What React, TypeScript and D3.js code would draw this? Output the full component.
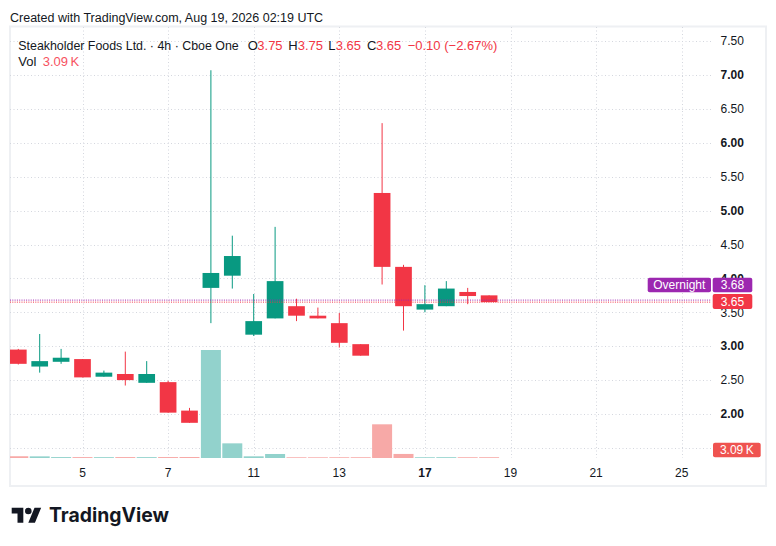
import * as d3 from 'd3';
import React from 'react';

// 4h candles, Aug 3 .. Aug 18 (two bars per session)
const opens = [2.95, 2.7, 2.77, 2.81, 2.55, 2.59, 2.46, 2.47, 2.05, 3.86, 4.04, 3.17, 3.41, 3.59, 3.45, 3.34, 3.03, 5.26, 4.17, 3.54, 3.59, 3.8, 3.75];
const highs = [2.96, 3.18, 2.96, 2.81, 2.64, 2.92, 2.78, 2.49, 2.09, 7.07, 4.63, 3.77, 4.76, 3.7, 3.57, 3.49, 3.03, 6.29, 4.2, 3.9, 3.96, 3.86, 3.75];
const lows = [2.73, 2.61, 2.74, 2.54, 2.55, 2.42, 2.46, 2.02, 1.87, 3.34, 3.85, 3.15, 3.41, 3.37, 3.41, 2.98, 2.86, 3.91, 3.23, 3.5, 3.59, 3.62, 3.65];
const closes = [2.74, 2.78, 2.83, 2.54, 2.61, 2.5, 2.59, 2.02, 1.87, 4.08, 4.33, 3.37, 3.96, 3.45, 3.41, 3.05, 2.86, 4.17, 3.59, 3.62, 3.85, 3.74, 3.65];
// volume in thousands
const volumes = [6.8, 6.4, 3.6, 3.5, 3.3, 3.6, 3.4, 3.7, 3.9, 420, 57, 6.5, 15.6, 2.8, 2.7, 2.9, 3.0, 131, 15.8, 2.9, 3.2, 3.0, 3.09];

const dayTickIdx = [3, 7, 11, 15, 19, 23, 27, 31];
const dayTickLabels = ['5', '7', '11', '13', '17', '19', '21', '25'];
const boldDay = '17';
const gridPrices = [1.5, 2, 2.5, 3, 3.5, 4, 4.5, 5, 5.5, 6, 6.5, 7, 7.5];
const priceLabels = [2, 2.5, 3, 3.5, 4, 4.5, 5, 5.5, 6, 6.5, 7, 7.5];
const overnightPrice = 3.68;
const prevClose = 3.75;

const W = 776;
const H = 546;
const plot = { left: 10, right: 711, top: 27, bottom: 458 };
const GREEN = '#089981';
const RED = '#f23645';
const TEXT = '#131722';
const FONT = '"Liberation Sans", Arial, sans-serif';

const App: React.FC = () => {
  const x = d3.scaleLinear().domain([0, 31]).range([18.3, 681.7]);
  const y = d3.scaleLinear().domain([2, 7]).range([414, 75]);
  const yVol = d3.scaleLinear().domain([0, 420]).range([plot.bottom, 350]);
  const bodyW = 16.7;
  const volW = 20;

  const last = opens.length - 1;
  const chg = closes[last] - prevClose;
  const pct = (chg / prevClose) * 100;
  const fmt = d3.format('.2f');
  const signed = (v: number) => (v < 0 ? '\u2212' : '+') + fmt(Math.abs(v));

  return (
    <svg
      width={W}
      height={H}
      viewBox={`0 0 ${W} ${H}`}
      style={{ position: 'absolute', left: 0, top: 0, background: '#fff' }}
      fontFamily={FONT}
    >
      <defs>
        <clipPath id="plotClip">
          <rect x={plot.left} y={plot.top} width={plot.right - plot.left} height={plot.bottom - plot.top} />
        </clipPath>
      </defs>
      <rect x={0} y={0} width={W} height={H} fill="#fff" />

      <text x={10} y={21.5} fontSize={12.5} fill={TEXT}>
        Created with TradingView.com, Aug 19, 2026 02:19 UTC
      </text>

      {/* frame */}
      <rect x={10} y={26.5} width={756} height={459.5} fill="none" stroke="#eef0f3" strokeWidth={2} />

      {/* grid */}
      <g stroke="#d4d7de" strokeWidth={1} strokeDasharray="1,2.5">
        {gridPrices.map((p) => (
          <line key={'h' + p} x1={plot.left} x2={plot.right} y1={Math.round(y(p)) + 0.5} y2={Math.round(y(p)) + 0.5} />
        ))}
        {dayTickIdx.map((i) => (
          <line key={'v' + i} x1={Math.round(x(i)) + 0.5} x2={Math.round(x(i)) + 0.5} y1={plot.top} y2={plot.bottom} />
        ))}
      </g>

      <g clipPath="url(#plotClip)">
        {/* volume */}
        {volumes.map((v, i) => (
          <rect
            key={'v' + i}
            x={x(i) - volW / 2}
            y={yVol(v)}
            width={volW}
            height={plot.bottom - yVol(v)}
            fill={closes[i] >= opens[i] ? '#92d2cc' : '#f7a9a7'}
          />
        ))}
        {/* candles */}
        {opens.map((o, i) => {
          const c = closes[i];
          const col = c >= o ? GREEN : RED;
          const top = y(Math.max(o, c));
          const bot = y(Math.min(o, c));
          return (
            <g key={'c' + i}>
              <line x1={x(i)} x2={x(i)} y1={y(highs[i])} y2={y(lows[i])} stroke={col} strokeWidth={1} />
              <rect x={x(i) - bodyW / 2} y={top} width={bodyW} height={Math.max(1, bot - top)} fill={col} />
            </g>
          );
        })}
        {/* price lines */}
        <line x1={plot.left} x2={plot.right} y1={y(overnightPrice)} y2={y(overnightPrice)} stroke="#9c27b0" strokeWidth={1} strokeDasharray="1,1.3" />
        <line x1={plot.left} x2={plot.right} y1={y(closes[last])} y2={y(closes[last])} stroke={RED} strokeWidth={1} strokeDasharray="1,1.3" />
      </g>

      {/* price axis */}
      <g fontSize={12} fill={TEXT}>
        {priceLabels.map((p) => (
          <text key={'pl' + p} x={720.5} y={y(p)} dy="0.35em" fontWeight={p % 1 === 0 ? 700 : 400}>
            {fmt(p)}
          </text>
        ))}
      </g>

      {/* time axis */}
      <g fontSize={12} fill={TEXT} textAnchor="middle">
        {dayTickIdx.map((i, k) => (
          <text key={'tl' + i} x={x(i)} y={476.5} fontWeight={dayTickLabels[k] === boldDay ? 700 : 400}>
            {dayTickLabels[k]}
          </text>
        ))}
      </g>

      {/* price labels */}
      <g fontSize={12} fill="#fff" textAnchor="middle">
        <rect x={647.7} y={277.7} width={63.3} height={14.6} rx={2} fill="#9c27b0" />
        <text x={679.3} y={285} dy="0.35em">Overnight</text>
        <rect x={712.7} y={277.7} width={39.6} height={14.6} rx={2} fill="#9c27b0" />
        <text x={732.5} y={285} dy="0.35em">{fmt(overnightPrice)}</text>
        <rect x={712.7} y={294} width={39.6} height={15} rx={2} fill={RED} />
        <text x={732.5} y={301.5} dy="0.35em">{fmt(closes[last])}</text>
        <rect x={713} y={442.7} width={47.7} height={14.6} rx={2} fill="#ef5350" />
        <text x={736.8} y={450} dy="0.35em">{fmt(volumes[last]) + '\u202fK'}</text>
      </g>

      {/* legend */}
      <g fontSize={13} fill={TEXT}>
        <text x={18.3} y={49.5} fontSize={12.4}>
          Steakholder Foods Ltd. · 4h · Cboe One
        </text>
        <text x={247.7} y={49.5}>O</text>
        <text x={257.3} y={49.5} fill={RED}>{fmt(opens[last])}</text>
        <text x={288.3} y={49.5}>H</text>
        <text x={297.7} y={49.5} fill={RED}>{fmt(highs[last])}</text>
        <text x={328.3} y={49.5}>L</text>
        <text x={335.7} y={49.5} fill={RED}>{fmt(lows[last])}</text>
        <text x={367} y={49.5}>C</text>
        <text x={376} y={49.5} fill={RED}>{fmt(closes[last])}</text>
        <text x={407.7} y={49.5} fill={RED}>
          {signed(chg)} ({signed(pct)}%)
        </text>
        <text x={18.3} y={66}>Vol</text>
        <text x={42.7} y={66} fill="#f7525f">{fmt(volumes[last]) + '\u202fK'}</text>
      </g>

      {/* TradingView logo */}
      <g transform="translate(11.7,504.4) scale(0.83)" fill={TEXT}>
        <path d="M14 22H7V11H0V4h14v18zM28 22h-8l7.5-18h8L28 22z" />
        <circle cx={20} cy={8} r={4} />
      </g>
      <text x={49} y={522} fontSize={20} fontWeight={700} fill={TEXT} fontFamily='Inter, "Liberation Sans", sans-serif' textLength={120} lengthAdjust="spacingAndGlyphs">
        TradingView
      </text>
    </svg>
  );
};

export default App;
